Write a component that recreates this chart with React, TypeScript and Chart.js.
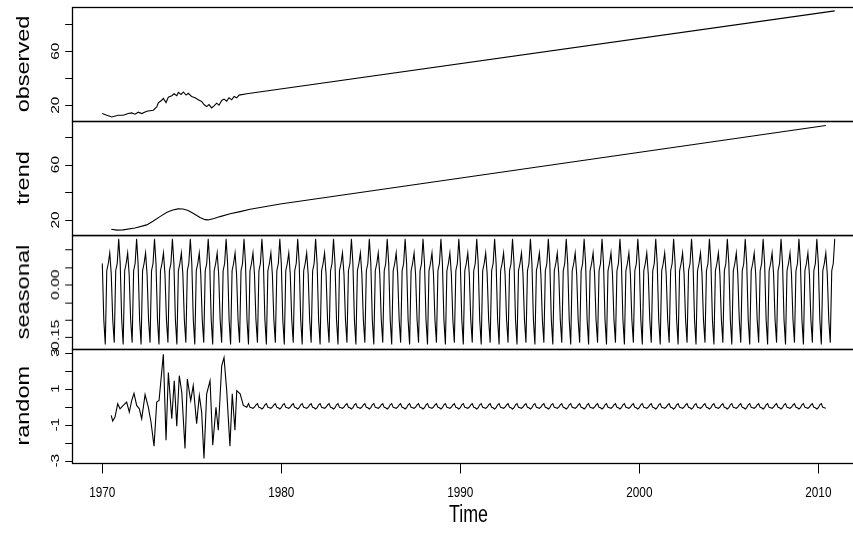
import React, { useEffect, useRef } from "react";
import { Chart, registerables } from "chart.js";
Chart.register(...registerables);

// ---------------- data ----------------
// monthly series: January 1970 .. December 2010
const seriesStartYear = 1970;
const seasonalMonths = 492;
// one seasonal figure, Jan..Dec
const seasonalFigure = [0.06, -0.1, -0.17, 0.04, 0.06, 0.09, 0.03, -0.1, -0.165, 0.04, 0.06, 0.13];

const observedTime = [
  1970.0, 1970.25, 1970.53, 1970.89, 1971.17, 1971.45, 1971.64, 1971.83, 1972.01, 1972.2,
  1972.48, 1972.85, 1973.04, 1973.13, 1973.32, 1973.41, 1973.56, 1973.69, 1973.88, 1974.01,
  1974.16, 1974.25, 1974.4, 1974.53, 1974.68, 1974.8, 1974.99, 1975.18, 1975.36, 1975.55,
  1975.68, 1975.83, 1975.96, 1976.11, 1976.24, 1976.39, 1976.52, 1976.67, 1976.8, 1976.95,
  1977.08, 1977.23, 1977.36, 1977.51, 1977.64, 1978.07, 2010.917,
];
const observedValue = [
  13.8, 12.6, 11.3, 12.6, 12.6, 13.8, 14.3, 13.3, 14.8, 13.8,
  15.5, 16.3, 18.7, 21.7, 23.7, 25.0, 22.0, 26.0, 27.0, 28.5,
  27.0, 29.5, 28.0, 29.8, 27.5, 28.8, 26.5, 25.5, 24.0, 22.8,
  20.5, 19.0, 20.5, 18.0, 19.5, 21.5, 20.0, 23.5, 24.5, 23.0,
  25.5, 24.0, 26.5, 25.5, 27.5, 28.5, 89.9,
];

const trendTime = [
  1970.5, 1970.82, 1971.16, 1971.83, 1972.48, 1972.83, 1973.22, 1973.61, 1973.94, 1974.23,
  1974.51, 1974.79, 1975.07, 1975.46, 1975.74, 1975.91, 1976.24, 1976.58, 1977.14, 1977.7,
  1978.26, 1979.94, 2010.417,
];
const trendValue = [
  13.3, 12.6, 12.8, 14.2, 16.4, 19.0, 22.4, 25.5, 27.2, 28.0,
  27.9, 26.8, 24.8, 21.8, 20.2, 20.0, 21.0, 22.4, 24.4, 26.0,
  27.7, 31.5, 88.3,
];

const randomEarlyTime = [
  1970.5, 1970.58, 1970.71, 1970.86, 1970.99, 1971.17, 1971.36, 1971.51, 1971.64, 1971.77,
  1971.92, 1972.07, 1972.2, 1972.39, 1972.57, 1972.72, 1972.89, 1973.04, 1973.17, 1973.41,
  1973.56, 1973.69, 1973.88, 1974.02, 1974.16, 1974.3, 1974.44, 1974.62, 1974.75, 1974.94,
  1975.08, 1975.27, 1975.42, 1975.55, 1975.68, 1975.83, 1976.02, 1976.17, 1976.35, 1976.48,
  1976.67, 1976.8, 1976.95, 1977.13, 1977.26, 1977.41, 1977.51, 1977.7, 1977.88, 1978.07,
];
const randomEarlyValue = [
  -0.48, -0.8, -0.58, 0.16, -0.12, 0.07, 0.25, -0.3, 0.34, 0.74,
  0.07, -0.12, -0.67, 0.67, -0.03, -0.85, -2.19, 0.25, 0.34, 2.91,
  -1.86, 1.9, -0.67, 1.44, -1.09, 1.72, 0.8, -2.32, 1.53, 0.34,
  1.17, -0.94, 0.62, -0.3, -2.87, 0.71, 1.44, -2.14, -0.03, -1.31,
  2.27, 2.72, 0.89, -2.19, 0.71, -1.31, 0.89, 0.71, 0.07, -0.03,
];
// regular residual after 1978, Jan..Dec
const randomLateCycle = [-0.06, 0.1, 0.17, -0.04, -0.06, -0.09, -0.03, 0.1, 0.165, -0.04, -0.06, -0.13];
const randomLateFirstMonth = 98; // March 1978
const randomLateLastMonth = 485; // June 2010

const xTickYears = [1970, 1980, 1990, 2000, 2010];
const observedTicks = [20, 40, 60, 80];
const observedTickLabels = ["20", "", "60", ""];
const trendTicks = [20, 40, 60, 80];
const trendTickLabels = ["20", "", "60", ""];
const seasonalTicks = [-0.15, -0.1, -0.05, 0, 0.05, 0.1];
const seasonalTickLabels = ["-0.15", "", "", "0.00", "", ""];
const randomTicks = [-3, -2, -1, 0, 1, 2, 3];
const randomTickLabels = ["-3", "", "-1", "", "1", "", "3"];
const panelNames = ["observed", "trend", "seasonal", "random"];
const xAxisTitle = "Time";

// ---------------- layout ----------------
const CANVAS_W = 880;
const PAGE_H = 541;
const PLOT_LEFT = 72.3;
const PLOT_RIGHT = 864.7;
const X_MIN = 1968.324;
const X_MAX = 2012.59;
const PAD = 12;
const SX = 0.76; // horizontal squeeze of the text
const FONT = '"Liberation Sans", Arial, sans-serif';
const TITLE_SIZE = 23.5;
const TICK_SIZE = 15.5;

const zip = (t: number[], v: number[]) => t.map((x, i) => ({ x, y: v[i] }));

const seasonalPoints = Array.from({ length: seasonalMonths }, (_, m) => ({
  x: seriesStartYear + m / 12,
  y: seasonalFigure[m % 12],
}));
const randomPoints = [
  ...zip(randomEarlyTime, randomEarlyValue),
  ...Array.from({ length: randomLateLastMonth - randomLateFirstMonth + 1 }, (_, k) => {
    const m = randomLateFirstMonth + k;
    return { x: seriesStartYear + m / 12, y: randomLateCycle[m % 12] };
  }),
];

type Panel = {
  name: string;
  top: number;
  bottom: number;
  min: number;
  max: number;
  ticks: number[];
  labels: string[];
  points: { x: number; y: number }[];
  last: boolean;
};

const panels: Panel[] = [
  { name: panelNames[0], top: 7, bottom: 121, min: 8.3, max: 92.8, ticks: observedTicks, labels: observedTickLabels, points: zip(observedTime, observedValue), last: false },
  { name: panelNames[1], top: 121, bottom: 235, min: 9.1, max: 91.5, ticks: trendTicks, labels: trendTickLabels, points: zip(trendTime, trendValue), last: false },
  { name: panelNames[2], top: 235, bottom: 348.5, min: -0.183, max: 0.141, ticks: seasonalTicks, labels: seasonalTickLabels, points: seasonalPoints, last: false },
  { name: panelNames[3], top: 348.5, bottom: 462.5, min: -3.1, max: 3.2, ticks: randomTicks, labels: randomTickLabels, points: randomPoints, last: true },
];

function hText(ctx: CanvasRenderingContext2D, text: string, x: number, y: number, size: number) {
  ctx.save();
  ctx.translate(x, y);
  ctx.scale(SX, 1);
  ctx.font = `${size}px ${FONT}`;
  ctx.textAlign = "center";
  ctx.textBaseline = "alphabetic";
  ctx.fillText(text, 0, 0);
  ctx.restore();
}
function vText(ctx: CanvasRenderingContext2D, text: string, x: number, y: number, size: number) {
  ctx.save();
  ctx.translate(x, y);
  ctx.rotate(-Math.PI / 2);
  ctx.scale(1, SX);
  ctx.font = `${size}px ${FONT}`;
  ctx.textAlign = "center";
  ctx.textBaseline = "alphabetic";
  ctx.fillText(text, 0, 0);
  ctx.restore();
}

function framePlugin(p: Panel) {
  return {
    id: "frame",
    afterDraw(chart: any) {
      const { ctx, chartArea: a, scales } = chart;
      const L = Math.round(a.left) + 0.5;
      const R = Math.round(a.right) + 0.5;
      const T = Math.round(a.top) + 0.5;
      const B = Math.round(a.bottom) + 0.5;
      ctx.save();
      ctx.strokeStyle = "#000";
      ctx.fillStyle = "#000";
      ctx.lineWidth = 1.3;
      ctx.strokeRect(L, T, R - L, B - T);
      ctx.lineWidth = 1;
      ctx.beginPath();
      p.ticks.forEach((v) => {
        const y = Math.round(scales.y.getPixelForValue(v)) + 0.5;
        ctx.moveTo(L - 7.3, y);
        ctx.lineTo(L, y);
      });
      ctx.stroke();
      p.ticks.forEach((v, i) => {
        const lab = p.labels[i];
        if (lab) vText(ctx, lab, 58.5, scales.y.getPixelForValue(v), TICK_SIZE);
      });
      vText(ctx, p.name, 28.5, (a.top + a.bottom) / 2, TITLE_SIZE);
      if (p.last) {
        ctx.beginPath();
        xTickYears.forEach((yr) => {
          const x = Math.round(scales.x.getPixelForValue(yr)) + 0.5;
          ctx.moveTo(x, B);
          ctx.lineTo(x, B + 10);
        });
        ctx.stroke();
        xTickYears.forEach((yr) => {
          hText(ctx, String(yr), scales.x.getPixelForValue(yr), a.bottom + 34.5, TICK_SIZE);
        });
        hText(ctx, xAxisTitle, (a.left + a.right) / 2, a.bottom + 59.5, TITLE_SIZE);
      }
      ctx.restore();
    },
  };
}

function PanelChart({ p }: { p: Panel }) {
  const ref = useRef<HTMLCanvasElement | null>(null);
  const canvasTop = p.top - PAD;
  const height = p.last ? PAGE_H - canvasTop : p.bottom - p.top + 2 * PAD;
  const padBottom = p.last ? PAGE_H - p.bottom : PAD;
  useEffect(() => {
    if (!ref.current) return;
    const chart = new Chart(ref.current, {
      type: "line",
      data: {
        datasets: [
          {
            data: p.points,
            borderColor: "#000",
            borderWidth: 1.1,
            pointRadius: 0,
            tension: 0,
            fill: false,
          },
        ],
      },
      options: {
        animation: false,
        responsive: false,
        maintainAspectRatio: false,
        devicePixelRatio: 1,
        events: [],
        layout: { padding: { left: PLOT_LEFT, right: CANVAS_W - PLOT_RIGHT, top: PAD, bottom: padBottom } },
        plugins: { legend: { display: false }, tooltip: { enabled: false } },
        scales: {
          x: { type: "linear", min: X_MIN, max: X_MAX, display: false },
          y: { type: "linear", min: p.min, max: p.max, display: false },
        },
      },
      plugins: [framePlugin(p)],
    } as any);
    return () => chart.destroy();
  }, [p]);
  return (
    <canvas
      ref={ref}
      width={CANVAS_W}
      height={height}
      style={{ position: "absolute", left: 0, top: canvasTop, width: CANVAS_W, height }}
    />
  );
}

export default function App() {
  return (
    <div
      style={{
        position: "fixed",
        left: 0,
        top: 0,
        width: 853,
        height: PAGE_H,
        overflow: "hidden",
        background: "#fff",
      }}
    >
      {panels.map((p) => (
        <PanelChart key={p.name} p={p} />
      ))}
    </div>
  );
}
